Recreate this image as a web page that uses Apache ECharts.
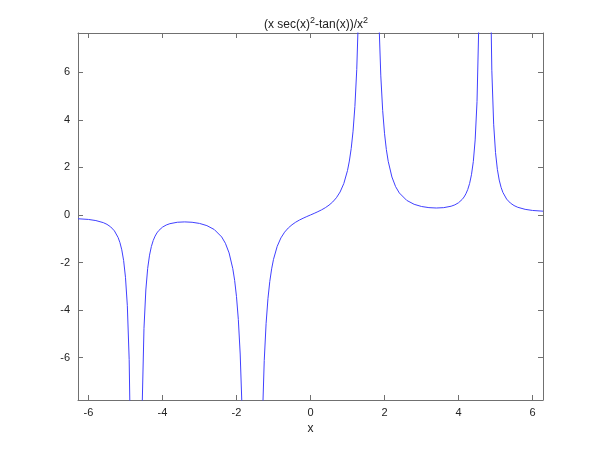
<!DOCTYPE html>
<html>
<head>
<meta charset="utf-8">
<script src="https://cdn.jsdelivr.net/npm/echarts@6/dist/echarts.min.js"></script>
<style>
  html, body { margin: 0; padding: 0; background: #fff; }
  #chart { width: 600px; height: 450px; }
</style>
</head>
<body>
<div id="chart"></div>
<script>
// sample points (null = break at the asymptotes)
var xs = [
  -6.2832, -6.0, -5.8, -5.6, -5.5, -5.4, -5.3, -5.2, -5.15, -5.1, -5.05, -5.0, -4.95, -4.9, -4.85, null,
  -4.6, -4.55, -4.5, -4.45, -4.4, -4.35, -4.3, -4.25, -4.2, -4.15, -4.1, -4.0, -3.9, -3.8, -3.6, -3.4, -3.2, -3.0, -2.8, -2.6, -2.4, -2.3, -2.2, -2.1, -2.05, -2.0, -1.95, -1.9, -1.85, -1.75, null,
  -1.4, -1.3, -1.25, -1.2, -1.15, -1.1, -1.05, -1.0, -0.9, -0.8, -0.7, -0.6, -0.5, -0.4, -0.3, -0.2, -0.1, 0,
  0.1, 0.2, 0.3, 0.4, 0.5, 0.6, 0.7, 0.8, 0.9, 1.0, 1.05, 1.1, 1.15, 1.2, 1.25, 1.3, 1.4, null,
  1.75, 1.85, 1.9, 1.95, 2.0, 2.05, 2.1, 2.2, 2.3, 2.4, 2.6, 2.8, 3.0, 3.2, 3.4, 3.6, 3.8, 3.9, 4.0, 4.1, 4.15, 4.2, 4.25, 4.3, 4.35, 4.4, 4.45, 4.5, 4.55, 4.6, null,
  4.85, 4.9, 4.95, 5.0, 5.05, 5.1, 5.15, 5.2, 5.3, 5.4, 5.5, 5.6, 5.8, 6.0, 6.2832
];
var ys = [
  -0.159, -0.189, -0.236, -0.323, -0.395, -0.502, -0.667, -0.946, -1.162, -1.467, -1.917, -2.621, -3.815, -6.086, -11.26, null,
  -16.86, -8.116, -4.772, -3.155, -2.246, -1.690, -1.324, -1.071, -0.890, -0.755, -0.654, -0.513, -0.424, -0.367, -0.307, -0.292, -0.308, -0.356, -0.448, -0.613, -0.925, -1.191, -1.596, -2.256, -2.750, -3.434, -4.398, -5.847, -8.136, -19.79, null,
  -21.77, -8.619, -6.120, -4.560, -3.522, -2.795, -2.266, -1.868, -1.320, -0.966, -0.723, -0.546, -0.412, -0.304, -0.215, -0.138, -0.067, 0,
  0.067, 0.138, 0.215, 0.304, 0.412, 0.546, 0.723, 0.966, 1.320, 1.868, 2.266, 2.795, 3.522, 4.560, 6.120, 8.619, 21.77, null,
  19.79, 8.136, 5.847, 4.398, 3.434, 2.750, 2.256, 1.596, 1.191, 0.925, 0.613, 0.448, 0.356, 0.308, 0.292, 0.307, 0.367, 0.424, 0.513, 0.654, 0.755, 0.890, 1.071, 1.324, 1.690, 2.246, 3.155, 4.772, 8.116, 16.86, null,
  11.26, 6.086, 3.815, 2.621, 1.917, 1.467, 1.162, 0.946, 0.667, 0.502, 0.395, 0.323, 0.236, 0.189, 0.159
];
var xTicks = [-6, -4, -2, 0, 2, 4, 6];
var yTicks = [-6, -4, -2, 0, 2, 4, 6];

var points = xs.map(function (x, i) {
  return x === null ? null : [x, ys[i]];
});

var myChart = echarts.init(document.getElementById('chart'));
var axisCol = '#707070';
var font = 'Liberation Sans, Arial, sans-serif';

function xAx(pos, showLabel) {
  return {
    type: 'value', position: pos, min: -2 * Math.PI, max: 2 * Math.PI,
    name: showLabel ? 'x' : '', nameLocation: 'middle', nameGap: 21,
    nameTextStyle: { color: '#222', fontSize: 12, fontFamily: font },
    axisLine: { show: true, onZero: false, lineStyle: { color: axisCol } },
    axisTick: { show: true, inside: true, length: 5, customValues: xTicks, lineStyle: { color: axisCol } },
    axisLabel: { show: showLabel, customValues: xTicks, margin: 7, color: '#222', fontSize: 11, fontFamily: font },
    splitLine: { show: false }
  };
}
function yAx(pos, showLabel) {
  return {
    type: 'value', position: pos, min: -7.78, max: 7.65,
    axisLine: { show: true, onZero: false, lineStyle: { color: axisCol } },
    axisTick: { show: true, inside: true, length: 5, customValues: yTicks, lineStyle: { color: axisCol } },
    axisLabel: { show: showLabel, customValues: yTicks, margin: 8, color: '#222', fontSize: 11, fontFamily: font },
    splitLine: { show: false }
  };
}

var option = {
  backgroundColor: '#fff',
  animation: false,
  title: {
    text: '{a|(x sec(x)}{s|2}{a|-tan(x))/x}{s|2}',
    left: 311, top: 8, textAlign: 'center',
    textStyle: {
      fontWeight: 'normal',
      rich: {
        a: { fontSize: 12, fontWeight: 'normal', color: '#222', fontFamily: font, padding: [6, 0, 0, 0] },
        s: { fontSize: 9, fontWeight: 'normal', color: '#222', fontFamily: font, padding: [0, 0, 3, 0] }
      }
    }
  },
  grid: { left: 78, right: 57, top: 33, bottom: 50 },
  xAxis: [xAx('bottom', true), xAx('top', false)],
  yAxis: [yAx('left', true), yAx('right', false)],
  series: [{
    type: 'line',
    data: points,
    showSymbol: false,
    connectNulls: false,
    clip: true,
    lineStyle: { color: '#4040ff', width: 1 }
  }]
};
myChart.setOption(option);
</script>
</body>
</html>
